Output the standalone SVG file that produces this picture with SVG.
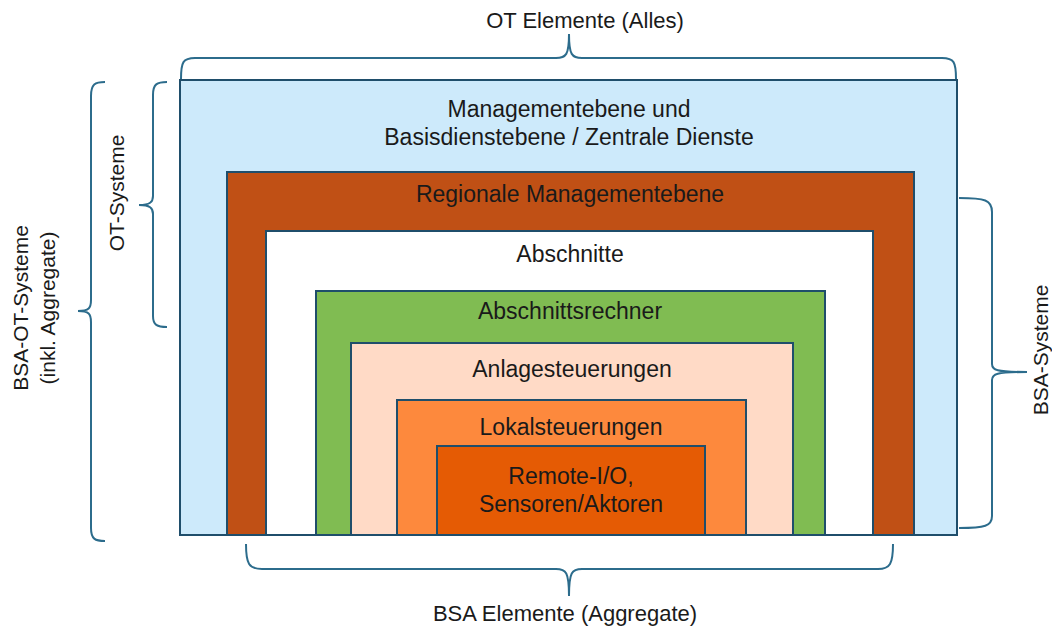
<svg xmlns="http://www.w3.org/2000/svg" width="1052" height="628" viewBox="0 0 1052 628">
<style>
.box{stroke:#1F4E6B;stroke-width:2}
.t{font-family:"Liberation Sans",Arial,sans-serif;font-size:23px;fill:#1a1a1a;text-anchor:middle}
.s{font-family:"Liberation Sans",Arial,sans-serif;font-size:22px;fill:#1a1a1a;text-anchor:middle}
.r{font-family:"Liberation Sans",Arial,sans-serif;font-size:21px;fill:#1a1a1a;text-anchor:middle}
.br{fill:none;stroke:#2C6C8C;stroke-width:2}
</style>
<rect width="1052" height="628" fill="#ffffff"/>
<g id="n-ot-alles">
<rect class="box" x="180" y="80" width="777" height="455" fill="#CDEAFB"/>
<text class="t" x="569" y="117">Managementebene und</text>
<text class="t" x="569" y="145">Basisdienstebene / Zentrale Dienste</text>
</g>
<g id="n-regional">
<rect class="box" x="227" y="172" width="687" height="363" fill="#C05015"/>
<text class="t" x="570" y="202">Regionale Managementebene</text>
</g>
<g id="n-abschnitte">
<rect class="box" x="266" y="231" width="607" height="304" fill="#ffffff"/>
<text class="t" x="570" y="262">Abschnitte</text>
</g>
<g id="n-abschnittsrechner">
<rect class="box" x="316" y="291" width="509" height="244" fill="#80BC52"/>
<text class="t" x="570" y="319">Abschnittsrechner</text>
</g>
<g id="n-anlage">
<rect class="box" x="351" y="343" width="442" height="192" fill="#FFDAC6"/>
<text class="t" x="572" y="377">Anlagesteuerungen</text>
</g>
<g id="n-lokal">
<rect class="box" x="397" y="400" width="349" height="135" fill="#FD893D"/>
<text class="t" x="571" y="435">Lokalsteuerungen</text>
</g>
<g id="n-remote">
<rect class="box" x="437" y="446" width="268" height="89" fill="#E55B04"/>
<text class="t" x="571" y="484">Remote-I/O,</text>
<text class="t" x="571" y="512">Sensoren/Aktoren</text>
</g>
<g id="connectors">
<path class="br" d="M181,79 C181,62 183,58 195,58 L556,58 C566,58 569,55 569,34 C569,55 572,58 582,58 L942,58 C954,58 956,62 956,79"/>
<path class="br" d="M105,82 C95,82 91,84 91,96 L91,300 C91,308 89,311 78,311 C89,311 91,314 91,322 L91,528 C91,539 95,541 105,541"/>
<path class="br" d="M167,82 C157,82 153,84 153,95 L153,196 C153,202 150,205 139,205 C150,205 153,208 153,214 L153,316 C153,325 157,327 167,327"/>
<path class="br" d="M959,198 C985,198 992,200 992,212 L992,364 C992,370 996,372 1027,372 C996,372 992,374 992,380 L992,516 C992,526 985,528 959,528"/>
<path class="br" d="M246,544 C246,564 249,569 262,569 L556,569 C566,569 569,572 569,596 C569,572 572,569 582,569 L878,569 C890,569 893,564 893,544"/>
</g>
<g id="labels">
<text class="s" x="585" y="28">OT Elemente (Alles)</text>
<text class="s" x="565" y="621">BSA Elemente (Aggregate)</text>
<text class="r" transform="translate(124,193) rotate(-90)">OT-Systeme</text>
<text class="r" transform="translate(28,308) rotate(-90)">BSA-OT-Systeme</text>
<text class="r" transform="translate(55,308) rotate(-90)">(inkl. Aggregate)</text>
<text class="r" transform="translate(1048,350) rotate(-90)">BSA-Systeme</text>
</g>
</svg>
